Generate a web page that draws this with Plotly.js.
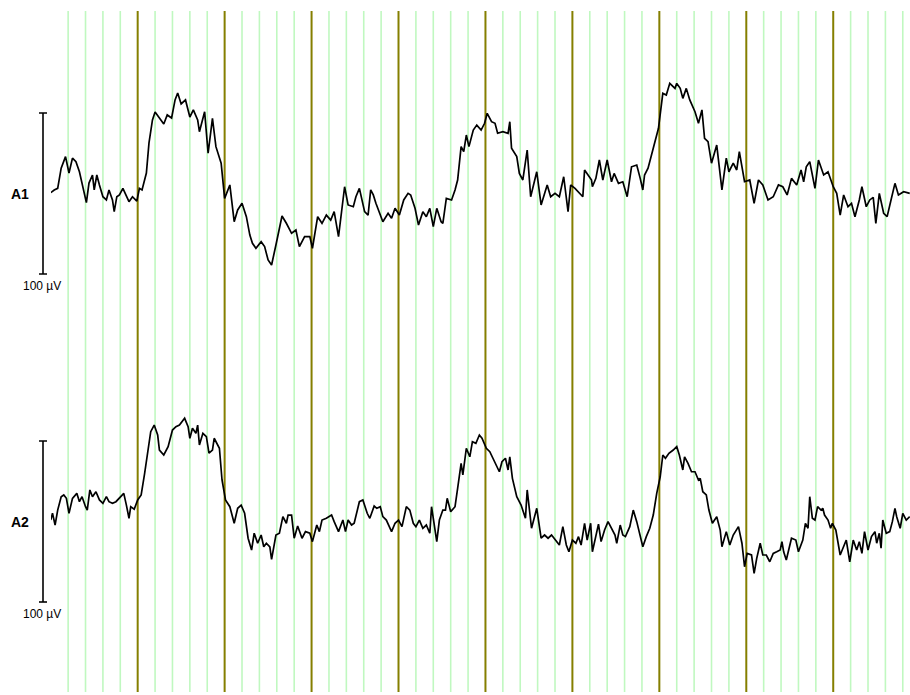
<!DOCTYPE html>
<html>
<head>
<meta charset="utf-8">
<script src="https://cdn.plot.ly/plotly-3.0.1.min.js"></script>
<style>
  html, body { margin: 0; padding: 0; background: #fff; }
  #plot { width: 910px; height: 695px; }
</style>
</head>
<body>
<div id="plot"></div>
<script>
// Channel names and amplitude scale (µV) for the calibration bars
const channels = ['A1', 'A2'];
const scaleBarUv = 100;
const scaleLabel = '100 µV';

// Time grid: a strong line every second, a fine line every 0.2 s
const secondMarks = [1, 2, 3, 4, 5, 6, 7, 8, 9];
const fineStep = 0.2;

// A1: time (s) and amplitude (µV)
const a1Time = [0.00,0.04,0.08,0.12,0.17,0.21,0.25,0.29,0.33,0.37,0.41,0.44,0.48,0.50,0.53,0.56,0.60,0.64,0.67,0.71,
  0.73,0.76,0.79,0.83,0.87,0.90,0.94,0.99,1.02,1.05,1.10,1.13,1.17,1.20,1.25,1.30,1.34,1.39,1.43,1.46,
  1.50,1.55,1.60,1.64,1.69,1.71,1.77,1.81,1.86,1.90,1.96,2.00,2.06,2.11,2.15,2.20,2.25,2.29,2.32,2.36,
  2.42,2.46,2.50,2.54,2.59,2.66,2.71,2.77,2.82,2.86,2.92,2.98,3.01,3.07,3.12,3.17,3.22,3.26,3.31,3.38,
  3.42,3.48,3.51,3.55,3.61,3.65,3.68,3.71,3.74,3.78,3.82,3.88,3.92,3.96,4.01,4.06,4.11,4.14,4.19,4.23,
  4.28,4.32,4.36,4.40,4.44,4.49,4.51,4.55,4.61,4.65,4.68,4.72,4.75,4.78,4.81,4.86,4.90,4.95,4.99,5.02,
  5.07,5.11,5.14,5.20,5.26,5.28,5.30,5.36,5.39,5.43,5.48,5.52,5.59,5.64,5.71,5.75,5.80,5.85,5.90,5.95,
  5.98,6.03,6.12,6.14,6.18,6.22,6.23,6.27,6.31,6.35,6.40,6.45,6.48,6.53,6.58,6.63,6.68,6.74,6.78,6.81,
  6.83,6.87,6.93,6.99,7.04,7.08,7.12,7.18,7.20,7.24,7.27,7.31,7.35,7.41,7.45,7.49,7.52,7.56,7.60,7.66,
  7.72,7.77,7.80,7.85,7.89,7.92,7.98,8.04,8.09,8.14,8.19,8.25,8.31,8.37,8.42,8.47,8.52,8.58,8.63,8.66,
  8.69,8.73,8.79,8.83,8.89,8.94,9.00,9.04,9.08,9.12,9.17,9.21,9.25,9.30,9.33,9.38,9.42,9.46,9.49,9.53,
  9.58,9.62,9.66,9.71,9.75,9.81,9.88];
const a1Uv = [0.5,2.2,3.2,15.7,22.9,12.7,22.0,19.8,13.5,4.2,-5.7,6.5,11.5,2.2,11.5,5.3,-2.0,-4.0,2.2,-4.0,
  -11.3,-2.0,-0.9,3.2,-2.0,-5.1,-2.0,-4.7,3.2,2.2,12.7,31.4,45.7,50.6,46.9,43.2,48.8,46.9,58.1,62.4,
  55.6,58.1,47.5,51.9,45.7,38.4,50.8,25.0,46.7,29.1,18.8,-3.0,5.3,-17.5,-10.2,-6.1,-14.4,-25.8,-30.9,-34.0,
  -29.9,-33.0,-41.3,-44.4,-32.0,-14.0,-18.5,-24.7,-22.7,-33.0,-26.8,-26.8,-34.0,-14.4,-18.5,-13.4,-16.5,-11.3,-26.8,4.2,
  -7.1,-8.2,-2.0,3.2,-11.3,-13.4,2.2,-0.9,-6.1,-11.3,-17.5,-12.3,-15.4,-9.2,-13.4,-4.0,0.1,-0.9,-9.2,-19.6,
  -11.3,-14.4,-9.2,-20.6,-9.2,-17.5,-18.5,-3.0,-4.0,2.2,8.4,29.1,26.0,36.3,29.1,39.4,42.5,39.4,43.6,49.8,
  44.6,43.6,37.4,38.4,37.4,44.6,28.1,22.9,12.5,8.4,27.0,-2.0,13.5,-7.1,5.3,-2.0,0.1,-2.0,10.4,-11.3,
  5.3,3.2,-2.0,14.6,11.5,8.4,4.2,9.4,20.8,8.4,20.8,7.3,12.5,6.3,7.3,-2.0,16.6,17.7,9.4,2.2,
  11.5,15.7,28.1,40.5,62.2,61.2,68.4,65.3,68.4,65.3,59.1,65.3,58.1,50.8,43.6,51.9,34.3,32.2,18.8,30.1,
  2.2,21.9,13.5,18.8,14.6,26.0,7.3,8.4,-6.1,8.4,5.3,-4.0,-2.0,5.3,4.2,-0.9,9.4,5.3,14.6,7.3,
  16.6,19.8,3.2,20.8,11.5,13.5,4.2,0.1,-13.4,-0.9,-8.2,-6.1,-14.4,-4.0,4.2,-8.2,-4.0,-2.4,-18.5,0.1,
  -12.3,-14.4,-5.1,6.3,-0.9,1.1,0.1];

// A2: time (s) and amplitude (µV)
const a2Time = [0.00,0.02,0.05,0.08,0.12,0.15,0.18,0.21,0.25,0.30,0.33,0.36,0.40,0.42,0.45,0.48,0.52,0.56,0.60,0.64,
  0.67,0.71,0.75,0.79,0.84,0.87,0.90,0.92,0.96,1.00,1.04,1.08,1.12,1.15,1.19,1.23,1.25,1.30,1.35,1.40,
  1.44,1.48,1.54,1.58,1.60,1.63,1.67,1.69,1.71,1.75,1.79,1.82,1.86,1.88,1.94,1.97,2.01,2.06,2.11,2.15,
  2.19,2.23,2.27,2.31,2.34,2.38,2.42,2.45,2.48,2.52,2.54,2.59,2.63,2.67,2.71,2.73,2.77,2.80,2.84,2.89,
  2.93,2.98,3.01,3.06,3.09,3.12,3.17,3.23,3.26,3.31,3.36,3.39,3.42,3.46,3.49,3.55,3.59,3.64,3.67,3.72,
  3.75,3.79,3.82,3.86,3.92,3.96,4.00,4.04,4.09,4.13,4.17,4.20,4.24,4.28,4.32,4.36,4.38,4.42,4.44,4.47,
  4.51,4.54,4.56,4.60,4.65,4.68,4.72,4.74,4.78,4.82,4.85,4.89,4.93,4.96,5.01,5.05,5.11,5.16,5.19,5.23,
  5.26,5.28,5.31,5.36,5.41,5.46,5.48,5.53,5.59,5.64,5.68,5.72,5.76,5.82,5.85,5.89,5.93,5.96,6.00,6.04,
  6.07,6.10,6.14,6.17,6.21,6.23,6.27,6.30,6.33,6.37,6.41,6.45,6.49,6.51,6.55,6.58,6.61,6.66,6.70,6.74,
  6.78,6.81,6.85,6.89,6.93,6.97,7.01,7.04,7.07,7.11,7.16,7.20,7.23,7.27,7.29,7.33,7.37,7.41,7.45,7.47,
  7.50,7.54,7.57,7.61,7.66,7.70,7.72,7.77,7.81,7.85,7.91,7.95,7.98,8.01,8.06,8.09,8.12,8.16,8.19,8.23,
  8.27,8.31,8.35,8.39,8.41,8.43,8.46,8.52,8.57,8.60,8.65,8.68,8.71,8.73,8.76,8.79,8.82,8.86,8.88,8.90,
  8.94,8.97,8.99,9.03,9.08,9.12,9.15,9.19,9.23,9.27,9.30,9.33,9.36,9.40,9.44,9.48,9.50,9.53,9.55,9.57,
  9.61,9.65,9.68,9.71,9.73,9.77,9.80,9.84,9.88];
const a2Uv = [0.9,5.1,-2.2,7.1,15.4,16.5,14.4,5.1,14.4,17.5,12.3,15.4,9.2,7.1,19.6,15.4,18.5,13.4,11.3,15.4,
  12.3,11.3,12.3,14.4,17.5,10.2,2.0,9.2,7.6,13.4,16.5,29.9,44.4,55.8,59.9,53.7,44.4,41.3,46.5,56.8,
  58.9,59.9,64.1,58.9,51.7,57.9,54.8,59.9,47.5,54.8,52.7,42.4,44.4,51.7,45.5,25.8,13.4,9.2,-1.1,8.2,
  10.2,5.1,-10.4,-17.7,-7.3,-13.5,-8.4,-15.7,-13.5,-15.7,-23.5,-8.4,-7.3,3.0,-1.1,4.0,4.0,-10.4,-2.8,-10.4,
  -6.3,-7.3,-12.5,-2.2,-6.3,0.9,2.0,4.0,-0.1,-6.3,0.9,-6.3,0.9,-2.2,-1.1,12.3,13.4,5.1,2.0,9.6,
  8.2,9.2,3.0,0.9,-6.3,-1.1,0.9,-3.2,9.2,7.1,-1.1,-3.2,0.9,-4.2,-2.2,-7.3,9.2,-7.3,-12.5,0.9,
  7.1,7.1,14.4,6.1,9.2,20.6,36.1,28.9,45.5,40.2,49.6,48.6,53.7,51.7,45.5,43.4,37.1,30.9,37.1,39.3,
  32.0,40.2,26.8,15.4,10.2,2.0,19.6,-4.2,8.2,-10.4,-8.4,-10.4,-8.4,-12.5,-14.6,-3.2,-14.6,-18.8,-11.5,-13.5,
  -9.4,-14.6,-1.1,-11.5,-1.1,-18.8,-9.4,-1.6,-12.5,-5.3,-0.1,-4.2,-8.4,-13.5,-2.2,-8.4,-9.4,-3.2,7.1,-0.1,
  -9.4,-15.7,-9.4,-4.2,4.0,17.5,27.8,41.3,39.3,42.4,44.4,46.5,41.3,32.0,40.2,36.1,30.9,30.9,25.8,26.8,
  18.5,16.5,7.1,-1.1,3.0,-5.3,-15.7,-6.3,-14.6,-8.4,-3.2,-13.5,-28.1,-19.8,-20.8,-32.2,-22.9,-13.5,-20.8,-20.8,
  -25.0,-19.8,-18.8,-17.7,-12.5,-18.8,-23.9,-10.4,-11.5,-18.8,-11.5,-1.1,-4.2,15.4,2.0,0.9,9.2,7.1,8.2,4.0,
  0.9,-4.2,-1.1,-5.3,-20.8,-15.7,-11.5,-25.0,-11.5,-17.7,-12.5,-19.8,-6.3,-17.7,-9.4,-6.3,-13.5,-7.3,-16.6,0.9,
  -7.3,-6.3,-0.1,8.2,3.0,-4.2,5.1,0.9,3.0];

// Page geometry
const W = 910, H = 695;
const margin = { l: 51, r: 0, t: 11, b: 3 };
const plotW = W - margin.l - margin.r;
const plotH = H - margin.t - margin.b;
const tRange = [0.003, 9.883];
const pxPerUv = 1.61;             // vertical gain
const half = plotH / 2;           // each channel gets half the height
// pixel distance from the top of each channel band to its zero line
const zeroFromTop = [193.5 - margin.t, 521.5 - margin.t - half];
const ranges = zeroFromTop.map(z => {
  const top = z / pxPerUv;
  return [top - half / pxPerUv, top];
});
const px2paperX = px => (px - margin.l) / plotW;

const lineStyle = { color: '#000', width: 1.7 };
const traces = [
  { x: a1Time, y: a1Uv, type: 'scatter', mode: 'lines', line: lineStyle, xaxis: 'x', yaxis: 'y', hoverinfo: 'skip' },
  { x: a2Time, y: a2Uv, type: 'scatter', mode: 'lines', line: lineStyle, xaxis: 'x', yaxis: 'y2', hoverinfo: 'skip' }
];

const yBase = {
  showgrid: false, zeroline: false, showticklabels: false, ticks: '', showline: false, fixedrange: true
};

const shapes = [];
const annotations = [];

// time grid (fine lines first so the second marks sit on top)
const nFine = Math.floor(tRange[1] / fineStep + 1e-9);
for (let k = 1; k <= nFine; k++) {
  if (k % 5 === 0) continue;
  const t = +(k * fineStep).toFixed(3);
  shapes.push({ type: 'line', layer: 'below', xref: 'x', yref: 'paper', x0: t, x1: t, y0: 0, y1: 1,
    line: { color: '#c0f8c0', width: 1.6 } });
}
secondMarks.forEach(t => {
  shapes.push({ type: 'line', layer: 'below', xref: 'x', yref: 'paper', x0: t, x1: t, y0: 0, y1: 1,
    line: { color: '#857f00', width: 2 } });
});

// calibration bars and channel labels
const barX = px2paperX(43), capL = px2paperX(39), capR = px2paperX(47);
const labelFont = 'Arial';
['y', 'y2'].forEach((yr, i) => {
  const lo = -scaleBarUv / 2, hi = scaleBarUv / 2;
  const ln = { color: '#000', width: 1.6 };
  shapes.push({ type: 'line', xref: 'paper', yref: yr, x0: barX, x1: barX, y0: lo, y1: hi, line: ln });
  shapes.push({ type: 'line', xref: 'paper', yref: yr, x0: capL, x1: capR, y0: hi, y1: hi, line: ln });
  shapes.push({ type: 'line', xref: 'paper', yref: yr, x0: capL, x1: capR, y0: lo, y1: lo, line: ln });
  annotations.push({
    text: '<b>' + channels[i] + '</b>', xref: 'paper', yref: yr, x: px2paperX(20), y: 0,
    xanchor: 'center', yanchor: 'middle', showarrow: false,
    font: { family: labelFont, size: 14, color: '#000' }
  });
  annotations.push({
    text: scaleLabel, xref: 'paper', yref: yr, x: px2paperX(42), y: lo - 7.5,
    xanchor: 'center', yanchor: 'middle', showarrow: false,
    font: { family: labelFont, size: 12, color: '#000' }
  });
});

const layout = {
  width: W, height: H, margin: margin,
  paper_bgcolor: '#fff', plot_bgcolor: '#fff',
  showlegend: false,
  xaxis: {
    range: tRange, showgrid: false,
    zeroline: false, showticklabels: false, ticks: '', showline: false, fixedrange: true
  },
  yaxis: Object.assign({ domain: [0.5, 1], range: ranges[0] }, yBase),
  yaxis2: Object.assign({ domain: [0, 0.5], range: ranges[1] }, yBase),
  shapes: shapes,
  annotations: annotations
};

Plotly.newPlot('plot', traces, layout, { staticPlot: true, displayModeBar: false });
</script>
</body>
</html>
